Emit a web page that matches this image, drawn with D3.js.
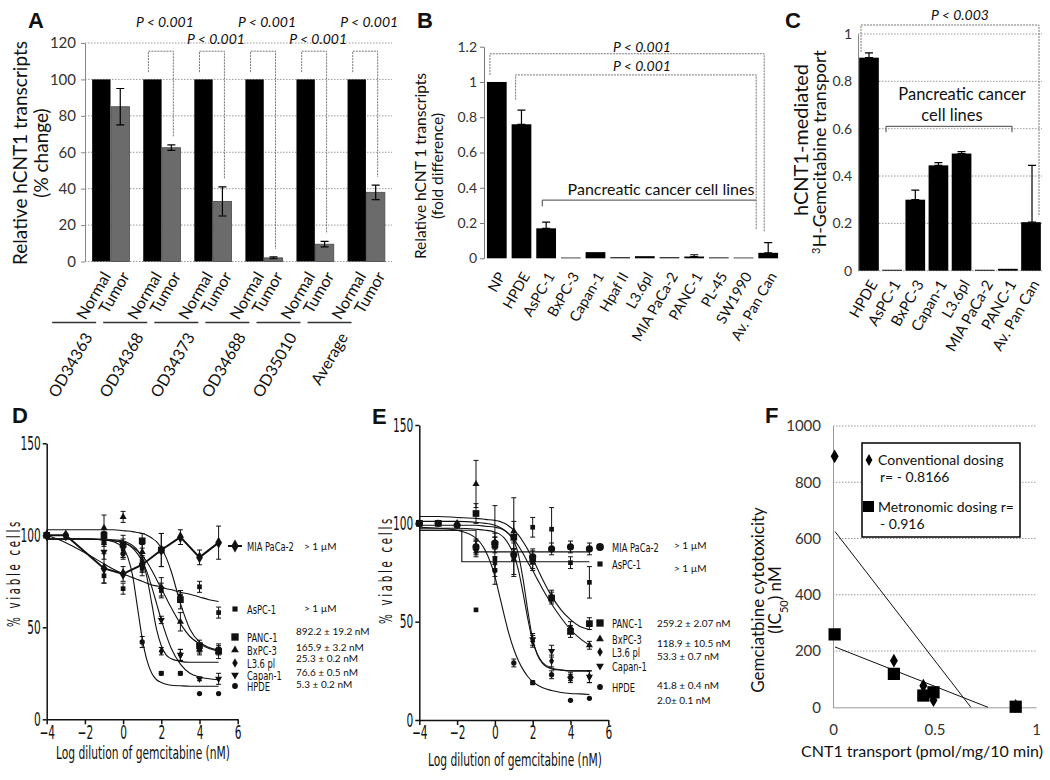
<!DOCTYPE html>
<html>
<head>
<meta charset="utf-8">
<script src="https://cdn.jsdelivr.net/npm/d3@7"></script>
<style>
  body { margin: 0; background: #fff; }
  svg { display: block; }
</style>
</head>
<body>
<svg width="1050" height="780"></svg>
<script>
// ---------- A: hCNT1 transcripts, normal vs tumor tissue
const aGroups = ['OD34363', 'OD34368', 'OD34373', 'OD34688', 'OD35010', 'Average'];
const aSeries = ['Normal', 'Tumor'];
const aNormal = [100, 100, 100, 100, 100, 100];
const aTumor = [85, 62.5, 33, 2, 9.5, 38];
const aTumorErr = [10, 1.5, 8, 0.5, 1.5, 4];
const aTicks = [0, 20, 40, 60, 80, 100, 120];

// ---------- B: hCNT1 transcripts in cell lines
const bCells = ['NP', 'HPDE', 'AsPC-1', 'BxPC-3', 'Capan-1', 'Hpaf II', 'L3.6pl', 'MIA PaCa-2', 'PANC-1', 'PL-45', 'SW1990', 'Av. Pan Can'];
const bVals = [1, 0.76, 0.17, 0.004, 0.035, 0.006, 0.012, 0.006, 0.01, 0.005, 0.004, 0.031];
const bErr = [0, 0.08, 0.035, 0.002, 0.004, 0.002, 0.003, 0.002, 0.01, 0.002, 0.002, 0.058];
const bTicks = [0, 0.2, 0.4, 0.6, 0.8, 1, 1.2];

// ---------- C: hCNT1-mediated transport
const cCells = ['HPDE', 'AsPC-1', 'BxPC-3', 'Capan-1', 'L3.6pl', 'MIA PaCa-2', 'PANC-1', 'Av. Pan Can'];
const cVals = [0.9, 0.004, 0.3, 0.445, 0.495, 0.004, 0.008, 0.205];
const cErr = [0.02, 0, 0.04, 0.012, 0.008, 0, 0, 0.24];
const cTicks = [0, 0.2, 0.4, 0.6, 0.8, 1];

// ---------- D / E: dose response, % viable cells
const doses = [-4, -3, -2, -1, 0, 1, 2, 3, 4, 5];
const doseXTicks = [-4, -2, 0, 2, 4, 6];
const doseYTicks = [0, 50, 100, 150];
const fitX = [-4, -3, -2, -1, -0.5, 0, 0.25, 0.5, 0.75, 1, 1.25, 1.5, 1.75, 2, 2.25, 2.5, 3, 3.5, 4, 4.5, 5];
const cellNames = ['MIA PaCa-2', 'AsPC-1', 'PANC-1', 'BxPC-3', 'L3.6 pl', 'Capan-1', 'HPDE'];

// D: conventional dosing
const dMIA = [100, 100, null, 82, 79, 84, 92, 99, 88, 96];
const dMIAErr = [1, 1, 0, 8, 4, 4, 9, 4, 4, 9];
const dAsPC = [100, null, null, 78, 71, 82, 70, 67, 72, 58];
const dAsPCErr = [0, 0, 0, 4, 3, 4, 4, 3, 3, 3];
const dPANC = [100, null, null, 100, 95, 97, 92, 65, 40, 37];
const dPANCErr = [0, 0, 0, 2, 5, 4, 9, 5, 3, 4];
const dBxPC = [100, null, null, 104, 110, 91, 72, 53, 38, 37];
const dBxPCErr = [0, 0, 0, 7, 3, 4, 5, 5, 3, 2];
const dL36 = [100, null, null, 98, 92, 86, 37, 35, 38, 38];
const dL36Err = [0, 0, 0, 3, 4, 3, 2, 3, 2, 2];
const dCapan = [100, null, null, 91, 93, 84, 54, 35, 22, 22];
const dCapanErr = [0, 0, 0, 4, 5, 4, 2, 3, 1, 3];
const dHPDE = [100, 100, null, 96, 90, 42, 25, 25, 14, 14];
const dHPDEErr = [0, 0, 0, 2, 3, 3, 1, 1, 0, 0];
const dFitAsPC = [100, 96, 90.5, 84.5, 81.5, 79, 78, 77, 76, 75, 74, 73, 72.5, 72, 71, 70.5, 69, 68, 66.5, 65, 64];
const dFitPANC = [103, 103, 103, 103, 103, 102.5, 102.3, 102, 101.5, 101, 100, 98.5, 96.5, 93, 88, 81, 63, 49, 42, 39, 37.5];
const dFitBxPC = [98, 98, 98, 97.5, 97, 96, 95, 93.5, 91.5, 89, 85.5, 81, 76, 71, 66, 61, 52, 45, 41, 38.5, 37];
const dFitL36 = [98, 98, 98, 98, 97.5, 97, 96, 94.5, 92, 87, 77, 63, 49, 40, 35, 33, 31.5, 31, 31, 31, 31];
const dFitCapan = [98, 98, 98, 97.5, 97, 96, 95, 93, 90, 86, 80, 72, 63, 54, 46, 39, 30, 25, 23, 22, 21.5];
const dFitHPDE = [98, 98, 98, 97.5, 96.5, 93, 88, 78, 61, 44, 32, 25, 21.5, 20, 19, 18.5, 18.2, 18, 18, 18, 18];
const dIC50 = ['> 1 µM', '> 1 µM', '892.2 ± 19.2 nM', '165.9 ± 3.2 nM', '25.3 ± 0.2 nM', '76.6 ± 0.5 nM', '5.3 ± 0.2 nM'];

// E: metronomic dosing
const eMIA = [100, 100, 99, 88, 90, 84, 83, 87, 88, 87];
const eMIAErr = [0, 0, 0, 3, 3, 3, 3, 3, 3, 3];
const eAsPC = [100, null, null, 56, 82, 82, 98, 97, 80, 70];
const eAsPCErr = [0, 0, 0, 0, 0, 8, 5, 11, 3, 8];
const ePANC = [100, 100, null, 105, 89, 93, 82, 62, 45, 49];
const ePANCErr = [0, 0, 0, 5, 20, 20, 5, 3, 3, 3];
const eBxPC = [100, null, null, 120, 90, 96, 80, 63, 47, 38];
const eBxPCErr = [0, 0, 0, 12, 5, 5, 4, 3, 3, 2];
const eL36 = [100, null, 100, 88, 80, 84, 40, 30, 22, 22];
const eL36Err = [0, 0, 0, 4, 3, 3, 3, 3, 2, 3];
const eCapan = [100, null, null, 86, 90, 84, 41, 35, 21, 22];
const eCapanErr = [0, 0, 0, 3, 3, 3, 3, 3, 2, 3];
const eHPDE = [100, 100, null, 88, 76, 29, 19, 23, 10, 11];
const eHPDEErr = [0, 0, 0, 3, 3, 2, 1, 2, 0, 0];
const eFitMIAX = [-4, -1, -1, 5];
const eFitMIA = [96.5, 96.5, 85.5, 85.5];
const eFitAsPCX = [-4, -1.75, -1.75, 5];
const eFitAsPC = [96.5, 96.5, 80.5, 80.5];
const eFitPANC = [103.5, 103.5, 103, 102.5, 102, 101.5, 101, 100, 98.5, 96.5, 94, 90.5, 86.5, 82, 77, 72, 63, 56, 51, 47.5, 46];
const eFitBxPC = [101, 101, 101, 100.5, 100, 99, 98, 96.5, 94.5, 92, 88.5, 84.5, 80, 76, 71.5, 67, 59, 52, 46, 41.5, 38];
const eFitL36 = [99, 99, 99, 99, 98.5, 98, 97.5, 96.5, 94.5, 91, 84, 71, 55, 41, 33, 29, 26, 25.3, 25, 25, 25];
const eFitCapan = [97.5, 97.5, 97.5, 97, 96.5, 95.5, 94.5, 92.5, 89, 84, 76, 64, 51, 40, 33.5, 29.5, 26.5, 25.5, 25, 25, 25];
const eFitHPDE = [98, 97.5, 96.5, 92.5, 86, 73, 63, 53, 43.5, 36, 30, 25.5, 22, 19.5, 17.8, 16.5, 15, 14, 13.5, 13.3, 13];
const eIC50 = ['> 1 µM', '> 1 µM', '259.2 ± 2.07 nM', '118.9 ± 10.5 nM', '53.3 ± 0.7 nM', '41.8 ± 0.4 nM', '2.0± 0.1 nM'];

// ---------- F: IC50 vs CNT1 transport
const fCells = ['PANC-1', 'BxPC-3', 'Capan-1', 'L3.6pl', 'HPDE'];
const fTransport = [0.008, 0.3, 0.445, 0.495, 0.9];
const fConventional = [892.2, 165.9, 76.6, 25.3, 5.3];
const fMetronomic = [259.2, 118.9, 41.8, 53.3, 2.0];
const fTicksY = [0, 200, 400, 600, 800, 1000];
const fTicksX = [0, 0.5, 1];

const FC = 'Lato, "Open Sans", sans-serif';
const FN = '"Liberation Sans Narrow", "DejaVu Sans Condensed", sans-serif';
const FL = '"Liberation Sans", Arial, sans-serif';
const grid = '#9a9a9a';

const svg = d3.select('svg');
svg.append('rect').attr('width', 1050).attr('height', 780).attr('fill', '#fff');

function txt(g, x, y, s, o = {}) {
    const t = g.append('text').attr('x', x).attr('y', y).text(s)
        .attr('font-family', o.family || FC)
        .attr('font-size', o.size || 14)
        .attr('text-anchor', o.anchor || 'start')
        .attr('fill', o.fill || '#111');
    if (o.italic) t.attr('font-style', 'italic');
    if (o.bold) t.attr('font-weight', 'bold');
    if (o.rotate != null) t.attr('transform', `rotate(${o.rotate},${x},${y})`);
    if (o.len) t.attr('textLength', o.len).attr('lengthAdjust', o.adjust || 'spacingAndGlyphs');
    return t;
}

// squeeze text horizontally to imitate a narrow font
function squeeze(sel, f) {
    sel.each(function () {
        const w = this.getComputedTextLength();
        d3.select(this).attr('textLength', w * f).attr('lengthAdjust', 'spacingAndGlyphs');
    });
}

function errBar(g, cx, yLo, yHi, w) {
    g.append('path')
        .attr('d', `M${cx - w},${yHi}H${cx + w}M${cx},${yHi}V${yLo}M${cx - w},${yLo}H${cx + w}`)
        .attr('stroke', '#000').attr('stroke-width', 1.2).attr('fill', 'none');
}

function styleAxis(a, size, stroke) {
    a.attr('font-family', FC).attr('font-size', size);
    a.select('.domain').attr('stroke', stroke);
    a.selectAll('.tick line').attr('stroke', stroke);
    a.selectAll('text').attr('fill', '#333');
}

// ================= A =================
const gA = svg.append('g');
const xA = d3.scaleBand().domain(aGroups).range([85, 392]).paddingInner(0.27).paddingOuter(0.14);
const xA2 = d3.scaleBand().domain(aSeries).range([0, xA.bandwidth()]).paddingInner(0.03);
const yA = d3.scaleLinear().domain([0, 120]).range([261.5, 43]);

gA.selectAll('line.grid').data(aTicks).enter().append('line')
    .attr('x1', 85).attr('x2', 392).attr('y1', d => yA(d)).attr('y2', d => yA(d))
    .attr('stroke', grid).attr('stroke-dasharray', '1.5,1.5');
const axA = gA.append('g').attr('transform', 'translate(85,0)')
    .call(d3.axisLeft(yA).tickValues(aTicks).tickSize(4).tickPadding(5).tickSizeOuter(0));
styleAxis(axA, 15, '#888');

const aRows = aGroups.map((g, i) => ({ g, normal: aNormal[i], tumor: aTumor[i], err: aTumorErr[i] }));
const bwA = xA2.bandwidth();
gA.selectAll('rect.n').data(aRows).enter().append('rect')
    .attr('x', d => xA(d.g) + xA2('Normal')).attr('width', bwA)
    .attr('y', d => yA(d.normal)).attr('height', d => yA(0) - yA(d.normal)).attr('fill', '#000');
gA.selectAll('rect.t').data(aRows).enter().append('rect')
    .attr('x', d => xA(d.g) + xA2('Tumor')).attr('width', bwA)
    .attr('y', d => yA(d.tumor)).attr('height', d => yA(0) - yA(d.tumor))
    .attr('fill', '#6b6b6b').attr('stroke', '#4a4a4a').attr('stroke-width', 0.8);
aRows.forEach(d => {
    const cx = xA(d.g) + xA2('Tumor') + bwA / 2;
    errBar(gA, cx, yA(d.tumor - d.err), yA(d.tumor + d.err), 4);
});
// significance brackets
aRows.forEach((d, i) => {
    if (i === 0) return;
    const xl = xA(d.g) + xA2('Normal') + bwA / 2 - 4;
    const xr = xA(d.g) + xA2('Tumor') + bwA / 2 + 2;
    gA.append('path')
        .attr('d', `M${xl},${yA(104)}V${yA(115.5)}H${xr}V${yA(d.tumor + d.err) - 8}`)
        .attr('fill', 'none').attr('stroke', '#777').attr('stroke-dasharray', '2,1');
    txt(gA, (xl + xr) / 2 + 4, i % 2 ? 27 : 44, 'P < 0.001', { italic: true, anchor: 'middle', size: 14 });
});
// category labels
aRows.forEach(d => {
    aSeries.forEach(s => {
        const cx = xA(d.g) + xA2(s) + bwA / 2 + 10;
        txt(gA, cx, 276, s, { anchor: 'end', size: 16, rotate: -60 });
    });
    gA.append('line').attr('x1', xA(d.g) - 40).attr('x2', xA(d.g) + 4)
        .attr('y1', 322.5).attr('y2', 322.5).attr('stroke', '#333').attr('stroke-width', 1.5);
    txt(gA, xA(d.g) + 1, 337, d.g, { anchor: 'end', size: 16, rotate: -60 });
});
txt(gA, 27, 153, 'Relative hCNT1 transcripts', { anchor: 'middle', size: 19, rotate: -90 });
txt(gA, 48, 153, '(% change)', { anchor: 'middle', size: 19, rotate: -90 });
txt(gA, 28, 28, 'A', { family: FL, bold: true, size: 22 });

// ================= B =================
const gB = svg.append('g');
const xB = d3.scaleBand().domain(bCells).range([482, 783]).padding(0.2);
const yB = d3.scaleLinear().domain([0, 1.2]).range([258.3, 46.7]);
const bwB = xB.bandwidth();
const axB = gB.append('g').attr('transform', 'translate(484,0)')
    .call(d3.axisLeft(yB).tickValues(bTicks).tickFormat(d3.format('~g')).tickSize(4).tickPadding(3).tickSizeOuter(0));
styleAxis(axB, 14, '#777');
const bRows = bCells.map((c, i) => ({ c, v: bVals[i], e: bErr[i] }));
gB.selectAll('rect').data(bRows).enter().append('rect')
    .attr('x', d => xB(d.c)).attr('width', bwB)
    .attr('y', d => yB(d.v)).attr('height', d => yB(0) - yB(d.v)).attr('fill', '#000');
bRows.forEach(d => {
    if (d.e > 0.005) errBar(gB, xB(d.c) + bwB / 2, yB(d.v), yB(d.v + d.e), 4);
});
const bR1 = xB('Av. Pan Can') + bwB / 2 - 4;
const bR2 = bR1 - 8;
gB.append('path')
    .attr('d', `M${xB('NP') + 3},${yB(1.04)}V${yB(1.16)}H${bR1}V${yB(0.153)}`)
    .attr('fill', 'none').attr('stroke', '#777').attr('stroke-dasharray', '2,1');
gB.append('path')
    .attr('d', `M${xB('HPDE') + 4},${yB(0.9)}V${yB(1.04)}H${bR2}V${yB(0.16)}`)
    .attr('fill', 'none').attr('stroke', '#777').attr('stroke-dasharray', '2,1');
txt(gB, 642, 52, 'P < 0.001', { italic: true, anchor: 'middle', size: 14 });
txt(gB, 642, 71, 'P < 0.001', { italic: true, anchor: 'middle', size: 14 });
gB.append('path')
    .attr('d', `M${xB('AsPC-1') + 6},${yB(0.295)}V${yB(0.33)}H${bR2}`)
    .attr('fill', 'none').attr('stroke', '#444');
txt(gB, 661, 195, 'Pancreatic cancer cell lines', { anchor: 'middle', size: 16 });
bRows.forEach(d => {
    txt(gB, xB(d.c) + bwB / 2 + 9, 276, d.c, { anchor: 'end', size: 14.5, rotate: -60 });
});
txt(gB, 426, 166, 'Relative hCNT 1 transcripts', { anchor: 'middle', size: 15.5, rotate: -90 });
txt(gB, 443, 166, '(fold difference)', { anchor: 'middle', size: 15.5, rotate: -90 });
txt(gB, 417, 28, 'B', { family: FL, bold: true, size: 22 });

// ================= C =================
const gC = svg.append('g');
const xC = d3.scaleBand().domain(cCells).range([858, 1042]).paddingInner(0.15).paddingOuter(0.05);
const yC = d3.scaleLinear().domain([0, 1]).range([270.7, 34]);
const bwC = xC.bandwidth();
gC.selectAll('line.grid').data(cTicks).enter().append('line')
    .attr('x1', 858).attr('x2', 1042).attr('y1', d => yC(d)).attr('y2', d => yC(d))
    .attr('stroke', grid).attr('stroke-dasharray', '1.5,1.5');
const axC = gC.append('g').attr('transform', 'translate(858,0)')
    .call(d3.axisLeft(yC).tickValues(cTicks).tickFormat(d3.format('~g')).tickSize(0).tickPadding(6).tickSizeOuter(0));
styleAxis(axC, 14, '#888');
const cRows = cCells.map((c, i) => ({ c, v: cVals[i], e: cErr[i] }));
gC.selectAll('rect').data(cRows).enter().append('rect')
    .attr('x', d => xC(d.c)).attr('width', bwC)
    .attr('y', d => yC(d.v)).attr('height', d => yC(0) - yC(d.v)).attr('fill', '#000');
cRows.forEach(d => {
    if (d.e > 0) errBar(gC, xC(d.c) + bwC / 2 + (d.c === 'Av. Pan Can' ? 1 : 0), yC(d.v), yC(d.v + d.e), 4);
});
gC.append('path')
    .attr('d', `M861,${yC(0.92) - 1}V${yC(1.038)}H1039V${yC(0.23)}`)
    .attr('fill', 'none').attr('stroke', '#777').attr('stroke-dasharray', '2,1');
txt(gC, 960, 20, 'P < 0.003', { italic: true, anchor: 'middle', size: 14 });
txt(gC, 962, 100, 'Pancreatic cancer', { anchor: 'middle', size: 16.5 });
txt(gC, 952, 121, 'cell lines', { anchor: 'middle', size: 16.5 });
gC.append('path')
    .attr('d', `M886,${yC(0.585)}V${yC(0.61)}H1012V${yC(0.585)}`)
    .attr('fill', 'none').attr('stroke', '#444');
cRows.forEach(d => {
    txt(gC, xC(d.c) + bwC / 2 + 9, 284, d.c, { anchor: 'end', size: 15, rotate: -60 });
});
txt(gC, 808, 140, 'hCNT1-mediated', { anchor: 'middle', size: 20, rotate: -90 });
const cTitle = txt(gC, 826, 152, '', { anchor: 'middle', size: 18, rotate: -90 });
cTitle.append('tspan').attr('font-size', 11).attr('baseline-shift', 'super').text('3');
cTitle.append('tspan').text('H-Gemcitabine transport');
txt(gC, 785, 28, 'C', { family: FL, bold: true, size: 22 });

// ================= D / E =================
function dosePanel(P) {
    const g = svg.append('g');
    const x = d3.scaleLinear().domain([-4, 6]).range(P.xr);
    const y = d3.scaleLinear().domain([0, 150]).range(P.yr);
    const smooth = d3.line().x(d => x(d[0])).y(d => y(d[1])).curve(d3.curveMonotoneX);
    const straight = d3.line().x(d => x(d[0])).y(d => y(d[1]));

    const ay = g.append('g').attr('transform', `translate(${P.xr[0]},0)`)
        .call(d3.axisLeft(y).tickValues(doseYTicks).tickSize(4).tickPadding(2).tickSizeOuter(0));
    const ax = g.append('g').attr('transform', `translate(0,${P.yr[0]})`)
        .call(d3.axisBottom(x).tickValues(doseXTicks).tickSize(5).tickPadding(1).tickSizeOuter(0));
    [ay, ax].forEach(a => {
        a.attr('font-family', FN).attr('font-size', 19);
        a.select('.domain').attr('stroke', '#111').attr('stroke-width', 1.5);
        a.selectAll('.tick line').attr('stroke', '#111').attr('stroke-width', 1.5);
        a.selectAll('text').attr('fill', '#111');
        squeeze(a.selectAll('text'), 0.62);
    });

    P.series.forEach(s => {
        if (s.fit) {
            const fx = s.fitX || fitX;
            const pts = fx.map((v, i) => [v, s.fit[i]]);
            g.append('path').attr('d', (s.step ? straight : smooth)(pts))
                .attr('fill', 'none').attr('stroke', '#111').attr('stroke-width', 1.1);
        }
        const data = doses.map((d, i) => [d, s.pts[i], s.err[i]]).filter(p => p[1] != null);
        if (s.connect) {
            g.append('path').attr('d', straight(data))
                .attr('fill', 'none').attr('stroke', '#111').attr('stroke-width', 2);
        }
        data.forEach(p => {
            if (p[2] > 0) {
                g.append('path')
                    .attr('d', `M${x(p[0]) - 2.5},${y(p[1] + p[2])}h5M${x(p[0])},${y(p[1] + p[2])}V${y(p[1] - p[2])}M${x(p[0]) - 2.5},${y(p[1] - p[2])}h5`)
                    .attr('stroke', '#111').attr('stroke-width', 1);
            }
        });
        g.selectAll(null).data(data).enter().append('path')
            .attr('d', d3.symbol().type(s.sym).size(s.size))
            .attr('transform', d => `translate(${x(d[0])},${y(d[1])}) rotate(${s.rot || 0})`)
            .attr('fill', '#111');
    });

    // legend
    P.series.forEach((s, i) => {
        const ly = P.legY[i];
        if (s.connect) {
            g.append('line').attr('x1', P.legX - 7).attr('x2', P.legX + 7).attr('y1', ly).attr('y2', ly)
                .attr('stroke', '#111').attr('stroke-width', 2);
        }
        g.append('path').attr('d', d3.symbol().type(s.sym).size(s.size * 1.2))
            .attr('transform', `translate(${P.legX},${ly}) rotate(${s.rot || 0})`).attr('fill', '#111');
        squeeze(txt(g, P.legX + 12, ly + 4.5, cellNames[i], { family: FN, size: 12.5 }), 0.74);
        txt(g, P.icX[i], P.icY[i] + 3.5, P.ic[i], { size: 10 });
    });

    txt(g, P.yTitle[0], P.yTitle[1], '% viable cells', { family: FN, size: 17, anchor: 'middle', rotate: -90, len: 108 })
        .attr('letter-spacing', 4);
    txt(g, P.xTitle[0], P.xTitle[1], 'Log dilution of gemcitabine (nM)', { family: FN, size: 17, anchor: 'middle', len: 174 });
    txt(g, P.letter[0], P.letter[1], P.name, { family: FL, bold: true, size: 22 });
}

const syms = [d3.symbolDiamond, d3.symbolSquare, d3.symbolSquare, d3.symbolTriangle, d3.symbolDiamond, d3.symbolTriangle, d3.symbolCircle];
const sizes = [40, 22, 45, 22, 22, 22, 22];
const rots = [0, 0, 0, 0, 0, 180, 0];

dosePanel({
    name: 'D', xr: [46.7, 237.7], yr: [719.3, 443.3],
    series: [
        { pts: dMIA, err: dMIAErr, connect: true },
        { pts: dAsPC, err: dAsPCErr, fit: dFitAsPC },
        { pts: dPANC, err: dPANCErr, fit: dFitPANC },
        { pts: dBxPC, err: dBxPCErr, fit: dFitBxPC },
        { pts: dL36, err: dL36Err, fit: dFitL36 },
        { pts: dCapan, err: dCapanErr, fit: dFitCapan },
        { pts: dHPDE, err: dHPDEErr, fit: dFitHPDE }
    ].map((s, i) => Object.assign(s, { sym: syms[i], size: sizes[i], rot: rots[i] })),
    legX: 235, legY: [546, 609, 637, 650, 663, 675, 686],
    ic: dIC50, icX: [304, 304, 296, 296, 296, 296, 296], icY: [546, 608, 631, 647, 658, 672, 684],
    yTitle: [20, 573], xTitle: [143, 759], letter: [12, 423]
});

dosePanel({
    name: 'E', xr: [419.3, 608.3], yr: [720, 425],
    series: [
        { pts: eMIA, err: eMIAErr, fit: eFitMIA, fitX: eFitMIAX, step: true },
        { pts: eAsPC, err: eAsPCErr, fit: eFitAsPC, fitX: eFitAsPCX, step: true },
        { pts: ePANC, err: ePANCErr, fit: eFitPANC },
        { pts: eBxPC, err: eBxPCErr, fit: eFitBxPC },
        { pts: eL36, err: eL36Err, fit: eFitL36 },
        { pts: eCapan, err: eCapanErr, fit: eFitCapan },
        { pts: eHPDE, err: eHPDEErr, fit: eFitHPDE }
    ].map((s, i) => Object.assign(s, { sym: i === 0 ? d3.symbolCircle : syms[i], size: i === 0 ? 40 : sizes[i], rot: rots[i] })),
    legX: 600, legY: [547, 564, 623, 639, 652, 666, 687],
    ic: eIC50, icX: [674, 674, 657, 657, 657, 657, 657], icY: [545, 568, 623, 643, 656, 685, 700],
    yTitle: [392, 570], xTitle: [515, 766], letter: [372, 424]
});

// ================= F =================
const gF = svg.append('g');
const xF = d3.scaleLinear().domain([0, 1]).range([833, 1036]);
const yF = d3.scaleLinear().domain([0, 1000]).range([707.3, 426]);
gF.selectAll('line.grid').data(fTicksY.slice(1)).enter().append('line')
    .attr('x1', 833).attr('x2', 1036).attr('y1', d => yF(d)).attr('y2', d => yF(d))
    .attr('stroke', grid).attr('stroke-dasharray', '1.5,1.5');
const axFY = gF.append('g').attr('transform', 'translate(833,0)')
    .call(d3.axisLeft(yF).tickValues(fTicksY).tickFormat(d3.format('d')).tickSize(0).tickPadding(12).tickSizeOuter(0));
styleAxis(axFY, 15, '#999');
const axFX = gF.append('g').attr('transform', 'translate(0,707.3)')
    .call(d3.axisBottom(xF).tickValues(fTicksX).tickFormat(d3.format('~g')).tickSize(0).tickPadding(17).tickSizeOuter(0));
styleAxis(axFX, 15, '#999');

// least-squares trend lines, clipped at zero
function trend(xs, ys) {
    const mx = d3.mean(xs), my = d3.mean(ys);
    const sxy = d3.sum(xs, (v, i) => (v - mx) * (ys[i] - my));
    const sxx = d3.sum(xs, v => (v - mx) * (v - mx));
    const b = sxy / sxx, a = my - b * mx;
    return [[0.01, a + b * 0.01], [-a / b, 0]];
}
[fConventional, fMetronomic].forEach(ys => {
    const t = trend(fTransport, ys);
    gF.append('line')
        .attr('x1', xF(t[0][0])).attr('y1', yF(t[0][1])).attr('x2', xF(t[1][0])).attr('y2', yF(t[1][1]))
        .attr('stroke', '#111').attr('stroke-width', 1);
});
gF.selectAll('path.m').data(fMetronomic).enter().append('path')
    .attr('d', d3.symbol().type(d3.symbolSquare).size(150))
    .attr('transform', (d, i) => `translate(${xF(fTransport[i])},${yF(d)})`).attr('fill', '#000');
gF.selectAll('path.c').data(fConventional).enter().append('path')
    .attr('d', d3.symbol().type(d3.symbolDiamond).size(55))
    .attr('transform', (d, i) => `translate(${xF(fTransport[i])},${yF(d)})`).attr('fill', '#000');

gF.append('rect').attr('x', 862).attr('y', 443).attr('width', 158).attr('height', 94)
    .attr('fill', '#fff').attr('stroke', '#000').attr('stroke-width', 1.5);
gF.append('path').attr('d', d3.symbol().type(d3.symbolDiamond).size(40))
    .attr('transform', 'translate(869,460)').attr('fill', '#000');
txt(gF, 878, 465, 'Conventional dosing', { size: 14 });
txt(gF, 880, 482, 'r= - 0.8166', { size: 14 });
gF.append('rect').attr('x', 863).attr('y', 501).attr('width', 11).attr('height', 11).attr('fill', '#000');
txt(gF, 878, 512, 'Metronomic dosing r=', { size: 14 });
txt(gF, 880, 529, '- 0.916', { size: 14 });

txt(gF, 764, 600, 'Gemciatbine cytotoxicity', { anchor: 'middle', size: 17, rotate: -90 });
const fTitle = txt(gF, 781, 600, '(IC', { anchor: 'middle', size: 17, rotate: -90 });
fTitle.append('tspan').attr('font-size', 11).attr('baseline-shift', 'sub').text('50');
fTitle.append('tspan').text(') nM');
txt(gF, 922, 757, 'CNT1 transport (pmol/mg/10 min)', { anchor: 'middle', size: 16 });
txt(gF, 765, 423, 'F', { family: FL, bold: true, size: 22 });
</script>
</body>
</html>
